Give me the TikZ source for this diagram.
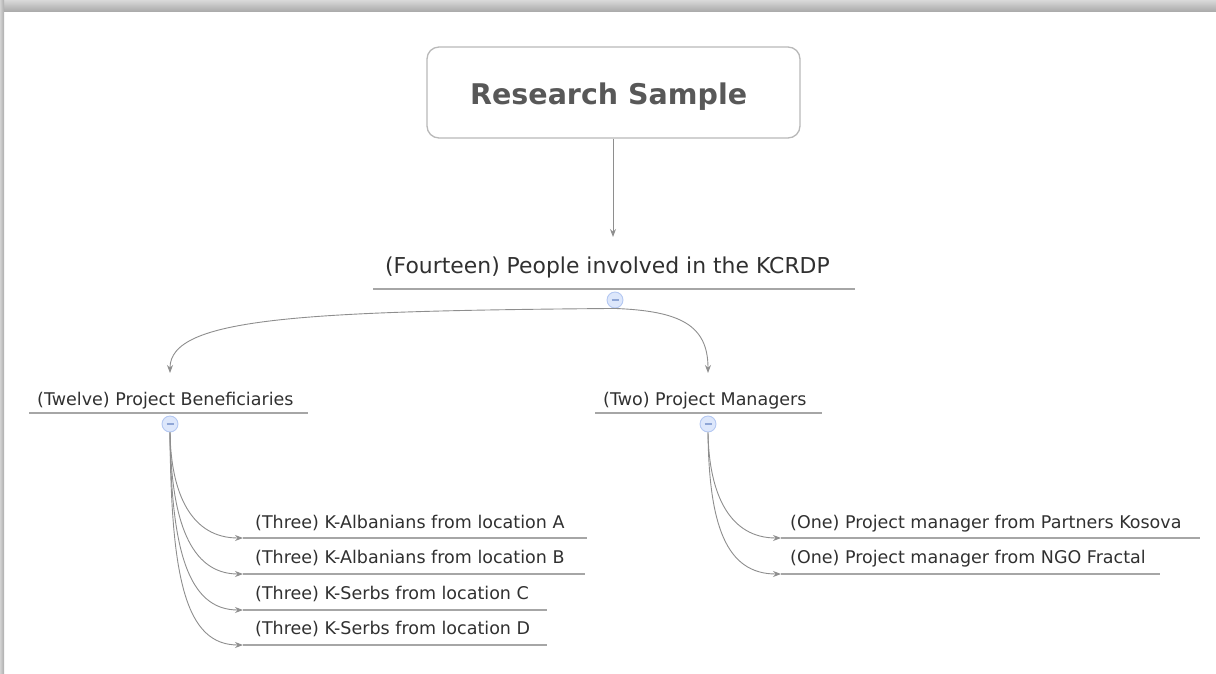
\documentclass[tikz,border=0pt]{standalone}
\usepackage{fontspec}
\setmainfont{DejaVu Sans}
\usetikzlibrary{arrows.meta}
\definecolor{txt}{HTML}{303030}
\definecolor{roottxt}{HTML}{585858}
\definecolor{ulc}{HTML}{A6A6A6}
\definecolor{connc}{HTML}{8E8E8E}
\definecolor{tglf}{HTML}{DDE7FB}
\definecolor{tglb}{HTML}{B4C8F2}
\definecolor{tglm}{HTML}{8FA6D6}
\begin{document}
\begin{tikzpicture}[x=1pt,y=-1pt,
  topic/.style={anchor=base west, inner sep=0pt, text=txt, font=\fontsize{17.5}{20}\selectfont},
  bigtopic/.style={topic, font=\fontsize{21.9}{25}\selectfont},
  uline/.style={draw=ulc, line width=1.6pt},
  toggle/.style={circle, draw=tglb, fill=tglf, line width=0.9pt, minimum size=16pt, inner sep=0pt,
    path picture={\draw[tglm, line width=1.2pt] ([xshift=4.5pt]path picture bounding box.west) -- ([xshift=-4.5pt]path picture bounding box.east);}},
  conn/.style={draw=connc, line width=0.9pt, -{Stealth[length=8pt,width=6pt]}},
  rootbox/.style={rectangle, rounded corners=12pt, draw=gray!55, line width=1.3pt, fill=white,
    minimum width=373pt, minimum height=91pt},
  roottext/.style={anchor=base west, inner sep=0pt, text=roottxt, font=\fontsize{28.5}{32}\selectfont\bfseries}
]
\useasboundingbox (0,0) rectangle (1216,673);
% window shadow
\shade[top color=gray!30, bottom color=gray!65] (0,0) rectangle (1216,11);
\shade[left color=gray!35, right color=gray!65] (0,0) rectangle (4,673);

% root
\node[rootbox] (root) at (613.5,92.5) {};
\node[roottext] (rootlabel) at (470,104) {Research Sample};

% level 1
\node[bigtopic] (fourteen) at (385,273) {(Fourteen) People involved in the KCRDP};
\coordinate (u14a) at (373,289); \coordinate (u14b) at (855,289);
\draw[uline] (u14a) -- (u14b);
\coordinate (in14) at (613,237);
\draw[conn] (root.south -| in14) -- (in14);
\node[toggle] (t14) at (615,300) {};

% level 2
\node[topic] (twelve) at (37,405) {(Twelve) Project Beneficiaries};
\coordinate (u12a) at (29,413); \coordinate (u12b) at (308,413);
\draw[uline] (u12a) -- (u12b);
\coordinate (in12) at (170,373);
\node[toggle] (t12) at (170,424) {};

\node[topic] (two) at (603,405) {(Two) Project Managers};
\coordinate (u2a) at (595,413); \coordinate (u2b) at (822,413);
\draw[uline] (u2a) -- (u2b);
\coordinate (in2) at (708,373);
\node[toggle] (t2) at (708,424) {};

\draw[conn] (t14.south) .. controls (300,311) and (170,318) .. (in12);
\draw[conn] (t14.south) .. controls (680,311) and (708,325) .. (in2);

% level 3 left
\node[topic] (ca) at (255,528) {(Three) K-Albanians from location A};
\node[topic] (cb) at (255,563) {(Three) K-Albanians from location B};
\node[topic] (cc) at (255,599) {(Three) K-Serbs from location C};
\node[topic] (cd) at (255,634) {(Three) K-Serbs from location D};
\coordinate (ua) at (243,538); \coordinate (uae) at (587,538);
\coordinate (ub) at (243,574); \coordinate (ube) at (585,574);
\coordinate (uc) at (243,610); \coordinate (uce) at (547,610);
\coordinate (ud) at (243,645); \coordinate (ude) at (547,645);
\draw[uline] (ua) -- (uae);
\draw[uline] (ub) -- (ube);
\draw[uline] (uc) -- (uce);
\draw[uline] (ud) -- (ude);
\draw[conn] (t12.south) .. controls (171,495) and (192,538) .. (ua);
\draw[conn] (t12.south) .. controls (171,520) and (190,574) .. (ub);
\draw[conn] (t12.south) .. controls (171,550) and (188,610) .. (uc);
\draw[conn] (t12.south) .. controls (171,580) and (186,645) .. (ud);

% level 3 right
\node[topic] (pa) at (790,528) {(One) Project manager from Partners Kosova};
\node[topic] (pb) at (790,563) {(One) Project manager from NGO Fractal};
\coordinate (upa) at (781,538); \coordinate (upae) at (1200,538);
\coordinate (upb) at (781,574); \coordinate (upbe) at (1160,574);
\draw[uline] (upa) -- (upae);
\draw[uline] (upb) -- (upbe);
\draw[conn] (t2.south) .. controls (709,495) and (730,538) .. (upa);
\draw[conn] (t2.south) .. controls (709,525) and (726,574) .. (upb);
\end{tikzpicture}
\end{document}
